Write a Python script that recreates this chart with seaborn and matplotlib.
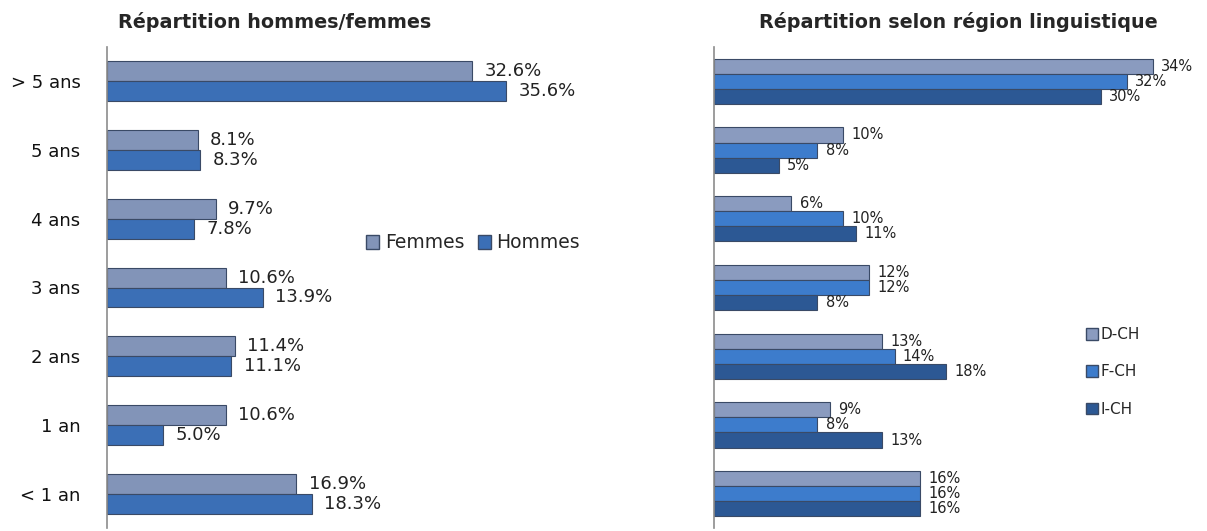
import pandas as pd
import matplotlib.pyplot as plt
import seaborn as sns

# data
categories = ["> 5 ans", "5 ans", "4 ans", "3 ans", "2 ans", "1 an", "< 1 an"]
femmes = [32.6, 8.1, 9.7, 10.6, 11.4, 10.6, 16.9]
hommes = [35.6, 8.3, 7.8, 13.9, 11.1, 5.0, 18.3]
d_ch = [34, 10, 6, 12, 13, 9, 16]
f_ch = [32, 8, 10, 12, 14, 8, 16]
i_ch = [30, 5, 11, 8, 18, 13, 16]

sexes = ["Femmes", "Hommes"]
regions = ["D-CH", "F-CH", "I-CH"]


def long_df(series, names):
    rows = []
    for name, vals in zip(names, series):
        for cat, v in zip(categories, vals):
            rows.append({"cat": cat, "groupe": name, "val": v})
    return pd.DataFrame(rows)


def style_axis(ax, xmax):
    ax.set_xlim(0, xmax)
    ax.set_ylim(len(categories) - 0.5, -0.5)
    ax.set_xlabel("")
    ax.set_ylabel("")
    ax.set_xticks([])
    for s in ["top", "right", "bottom"]:
        ax.spines[s].set_visible(False)
    ax.spines["left"].set_color("#8c8c8c")
    ax.spines["left"].set_linewidth(1.2)
    ax.set_yticks([i + 0.5 for i in range(len(categories) - 1)], minor=True)
    ax.tick_params(axis="y", which="minor", length=6, color="#8c8c8c")
    ax.tick_params(axis="y", which="major", length=0)
    ax.legend_.remove()


def main():
    sns.set_style("white")
    plt.rcParams["font.family"] = ["DejaVu Sans"]

    fig = plt.figure(figsize=(12.07, 5.31), dpi=100)

    # left: hommes / femmes
    ax1 = fig.add_axes([107 / 1207, 3 / 531, 493 / 1207, 481 / 531])
    df1 = long_df([femmes, hommes], sexes)
    sns.barplot(data=df1, y="cat", x="val", hue="groupe", hue_order=sexes,
                order=categories, orient="h", width=0.58,
                palette=["#8294b8", "#3b6fb6"], edgecolor="#3a4a66",
                linewidth=0.8, saturation=1, ax=ax1)
    style_axis(ax1, 493 / 11.2)
    ax1.tick_params(axis="y", which="major", labelsize=13, pad=19, labelcolor="#111")
    for cont in ax1.containers:
        ax1.bar_label(cont, fmt="%.1f%%", padding=9, fontsize=13, color="#222")
    handles = [plt.Rectangle((0, 0), 1, 1, fc=c, ec="#3a4a66") for c in ["#8294b8", "#3b6fb6"]]
    fig.legend(handles, sexes, loc="center", bbox_to_anchor=(473 / 1207, 1 - 243 / 531),
               ncol=2, frameon=False, fontsize=13.5, handlelength=0.7, handleheight=0.7,
               handletextpad=0.3, columnspacing=0.7)
    fig.text(275 / 1207, 1 - 22 / 531, "Répartition hommes/femmes",
             ha="center", va="center", fontsize=13.8, fontweight="bold")

    # right: region linguistique
    ax2 = fig.add_axes([714 / 1207, 3 / 531, 493 / 1207, 481 / 531])
    df2 = long_df([d_ch, f_ch, i_ch], regions)
    cols2 = ["#8a9bbf", "#3d7ccc", "#2c5894"]
    sns.barplot(data=df2, y="cat", x="val", hue="groupe", hue_order=regions,
                order=categories, orient="h", width=0.66,
                palette=cols2, edgecolor="#3a4a66", linewidth=0.8,
                saturation=1, ax=ax2)
    style_axis(ax2, 493 / 12.9)
    ax2.set_yticklabels([])
    for cont in ax2.containers:
        ax2.bar_label(cont, fmt="%.0f%%", padding=6, fontsize=10.5, color="#222")
    handles2 = [plt.Rectangle((0, 0), 1, 1, fc=c, ec="#3a4a66") for c in cols2]
    fig.legend(handles2, regions, loc="center", bbox_to_anchor=(1113 / 1207, 1 - 372 / 531),
               ncol=1, frameon=False, fontsize=11, handlelength=0.8, handleheight=0.8,
               handletextpad=0.2, labelspacing=1.45)
    fig.text(958 / 1207, 1 - 22 / 531, "Répartition selon région linguistique",
             ha="center", va="center", fontsize=13.8, fontweight="bold")

    fig.savefig("out.png", dpi=100)


if __name__ == "__main__":
    main()
